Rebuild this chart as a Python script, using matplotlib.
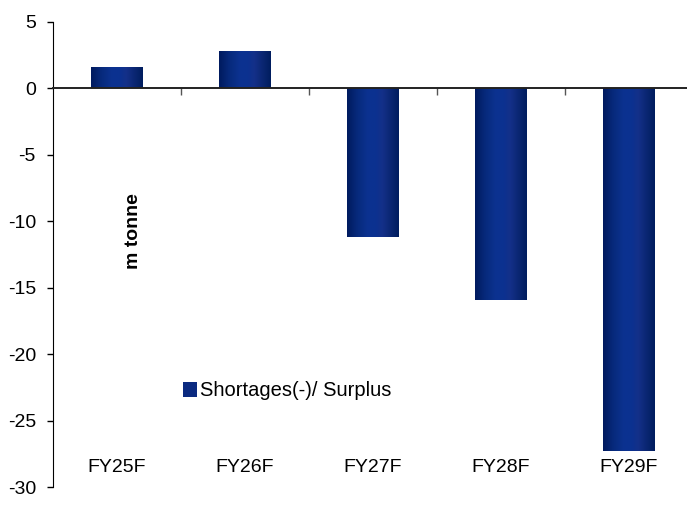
import numpy as np
import matplotlib
matplotlib.use("Agg")
import matplotlib.pyplot as plt
from matplotlib.colors import LinearSegmentedColormap
from matplotlib.patches import Patch

plt.rcParams['font.family'] = ['Liberation Sans', 'DejaVu Sans']

categories = ["FY25F", "FY26F", "FY27F", "FY28F", "FY29F"]
values = [1.65, 2.85, -11.2, -15.9, -27.3]
yticks = [5, 0, -5, -10, -15, -20, -25, -30]
series_name = "Shortages(-)/ Surplus"
unit_label = "m tonne"

# shading across each bar, dark edges, lighter middle
bar_cmap = LinearSegmentedColormap.from_list("bar", [
    (0.00, "#001a5e"), (0.20, "#072a7c"), (0.40, "#0c3290"),
    (0.55, "#0b3190"), (0.68, "#143089"), (0.85, "#0a2671"),
    (1.00, "#001d5e")])

fs = 14

fig = plt.figure(figsize=(6.87, 5.21), dpi=100)
ax = fig.add_axes([53 / 687, 34 / 521, 634 / 687, 465 / 521])

bw = 52 / 128
grad = np.linspace(0, 1, 256).reshape(1, -1)
bars = ax.bar(range(len(categories)), values, width=bw, color="none")
for b in bars:
    x0, w = b.get_x(), b.get_width()
    y0, h = b.get_y(), b.get_height()
    im = ax.imshow(grad, cmap=bar_cmap, aspect="auto",
                   extent=[x0, x0 + w, min(y0, y0 + h), max(y0, y0 + h)],
                   zorder=2, interpolation="bilinear")
    im.set_clip_path(b)

ax.set_xlim(-0.5, -0.5 + 634 / 128)
ax.set_ylim(-30, 5)
ax.set_yticks(yticks)
ax.set_yticklabels([str(t) for t in yticks], fontsize=fs)
ax.tick_params(axis="y", length=4.3, width=1, pad=8)

ax.spines["top"].set_visible(False)
ax.spines["right"].set_visible(False)
ax.spines["bottom"].set_position(("data", 0))
ax.spines["bottom"].set_color("#222222")
ax.spines["bottom"].set_linewidth(1.4)
ax.spines["bottom"].set_zorder(3)
ax.set_xticks(np.arange(0.5, len(categories) - 0.5, 1.0))
ax.set_xticklabels([])
ax.tick_params(axis="x", direction="out", length=5, width=1, colors="#555555")

for i, c in enumerate(categories):
    ax.text(i, -28.55, c, ha="center", va="center", fontsize=fs)

ax.text(0.125, -10.75, unit_label, rotation=90, ha="center", va="center",
        fontsize=fs, fontweight="bold")

ax.legend(handles=[Patch(facecolor="#0b2a80", edgecolor="none", label=series_name)],
          loc="center left", bbox_to_anchor=(122 / 634, (487 - 391) / 465),
          frameon=False, fontsize=14.5, handlelength=0.7, handleheight=0.7,
          handletextpad=0.12, borderaxespad=0)

fig.savefig("out.png", dpi=100)
